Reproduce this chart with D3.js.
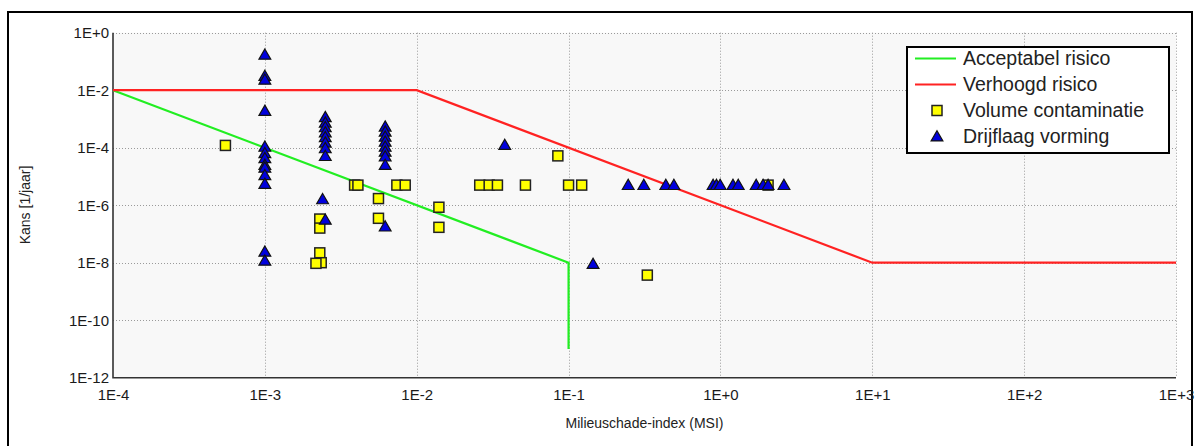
<!DOCTYPE html>
<html>
<head>
<meta charset="utf-8">
<script src="https://cdn.jsdelivr.net/npm/d3@7"></script>
<style>
  html, body { margin: 0; padding: 0; background: #fff; }
  svg { display: block; font-family: "Liberation Sans", Arial, sans-serif; }
</style>
</head>
<body>
<svg id="chart" width="1198" height="446"></svg>
<script>
// Grenslijnen (MSI, kans)
const acceptX = [1e-4, 1e-1, 1e-1];
const acceptY = [1e-2, 1e-8, 1e-11];
const verhoogdX = [1e-4, 1e-2, 1e1, 1e3];
const verhoogdY = [1e-2, 1e-2, 1e-8, 1e-8];

// Volume contaminatie (vierkantjes)
const volumeX = [5.5e-4, 2.3e-3, 2.3e-3, 2.3e-3, 2.35e-3, 2.17e-3, 3.9e-3, 4.1e-3, 5.6e-3, 5.6e-3,
  7.4e-3, 8.4e-3, 1.4e-2, 1.4e-2, 2.6e-2, 3.0e-2, 3.4e-2, 5.2e-2, 8.5e-2, 0.1, 0.122, 0.33, 2.06];
const volumeY = [1.2e-4, 3.3e-7, 1.6e-7, 2.2e-8, 1e-8, 9.5e-9, 5e-6, 5e-6, 1.7e-6, 3.5e-7,
  5e-6, 5e-6, 8.5e-7, 1.7e-7, 5e-6, 5e-6, 5e-6, 5e-6, 5.2e-5, 5e-6, 5e-6, 3.7e-9, 5e-6];

// Drijflaag vorming (driehoekjes)
const drijfX = [
  1e-3, 1e-3, 1e-3, 1e-3, 1e-3, 1e-3, 1e-3, 1e-3, 1e-3, 1e-3, 1e-3, 1e-3, 1e-3,
  2.5e-3, 2.5e-3, 2.5e-3, 2.5e-3, 2.5e-3, 2.5e-3, 2.5e-3, 2.5e-3, 2.4e-3, 2.5e-3,
  6.2e-3, 6.2e-3, 6.2e-3, 6.2e-3, 6.2e-3, 6.2e-3, 6.2e-3, 6.2e-3, 6.2e-3,
  3.8e-2, 0.145,
  0.247, 0.313, 0.437, 0.494, 0.895, 0.942, 0.996, 1.21, 1.31, 1.72, 1.91, 2.06, 2.62];
const drijfY = [
  0.17, 0.031, 0.023, 1.9e-3, 1.07e-4, 6.4e-5, 4.3e-5, 2.5e-5, 2e-5, 1.1e-5, 5.5e-6, 2.4e-8, 1.17e-8,
  1.15e-3, 7.4e-4, 5.1e-4, 3.4e-4, 2.3e-4, 1.5e-4, 9.5e-5, 5.1e-5, 1.6e-6, 3.1e-7,
  5.4e-4, 3.6e-4, 2.4e-4, 1.6e-4, 1.07e-4, 7.2e-5, 4.9e-5, 2.5e-5, 1.8e-7,
  1.24e-4, 9e-9,
  5e-6, 5e-6, 5e-6, 5e-6, 5e-6, 5e-6, 5e-6, 5e-6, 5e-6, 5e-6, 5e-6, 5e-6, 5e-6];

// As-labels
const xTicks = [1e-4, 1e-3, 1e-2, 1e-1, 1e0, 1e1, 1e2, 1e3];
const yTicks = [1e0, 1e-2, 1e-4, 1e-6, 1e-8, 1e-10, 1e-12];

const svg = d3.select("#chart");

// buitenkader
svg.append("rect")
  .attr("x", 8).attr("y", 12)
  .attr("width", 1184).attr("height", 460)
  .attr("fill", "#fff")
  .attr("stroke", "#000")
  .attr("stroke-width", 2);

const plotL = 113, plotR = 1176, plotT = 32.7, plotB = 377.7;

const x = d3.scaleLog().domain([1e-4, 1e3]).range([plotL, plotR]);
const y = d3.scaleLog().domain([1e-12, 1]).range([plotB, plotT]);

const fmt = v => {
  const e = Math.round(Math.log10(v));
  return "1E" + (e >= 0 ? "+" : "-") + Math.abs(e);
};

// plotvlak
svg.append("rect")
  .attr("x", plotL).attr("y", plotT)
  .attr("width", plotR - plotL).attr("height", plotB - plotT)
  .attr("fill", "#f8f8f8");

// rasterlijnen
const grid = svg.append("g")
  .attr("stroke", "#9a9a9a")
  .attr("stroke-width", 1)
  .attr("stroke-dasharray", "1,2");

grid.selectAll(".vgrid")
  .data(xTicks.slice(1))
  .enter().append("line")
  .attr("x1", d => Math.round(x(d)) + 0.5).attr("x2", d => Math.round(x(d)) + 0.5)
  .attr("y1", plotT).attr("y2", plotB);

grid.selectAll(".hgrid")
  .data(yTicks.slice(0, -1))
  .enter().append("line")
  .attr("y1", d => Math.round(y(d)) + 0.5).attr("y2", d => Math.round(y(d)) + 0.5)
  .attr("x1", plotL).attr("x2", plotR);

// assen
const xAxis = svg.append("g")
  .attr("transform", `translate(0,${plotB})`)
  .call(d3.axisBottom(x).tickValues(xTicks).tickFormat(fmt).tickSize(0).tickPadding(12));

const yAxis = svg.append("g")
  .attr("transform", `translate(${plotL},0)`)
  .call(d3.axisLeft(y).tickValues(yTicks).tickFormat(fmt).tickSize(0).tickPadding(4));

[xAxis, yAxis].forEach(a => {
  a.select(".domain").remove();
  a.selectAll("text")
    .attr("fill", "#1a1a1a")
    .style("font-size", "15px")
    .style("font-family", "'Liberation Sans', Arial, sans-serif");
});

svg.append("path")
  .attr("d", `M${plotL},${plotT}V${plotB}H${plotR}`)
  .attr("fill", "none")
  .attr("stroke", "#333")
  .attr("stroke-width", 1.6);

// astitels
svg.append("text")
  .attr("x", (plotL + plotR) / 2).attr("y", 428)
  .attr("text-anchor", "middle")
  .style("font-size", "14px")
  .attr("fill", "#222")
  .text("Milieuschade-index (MSI)");

svg.append("text")
  .attr("transform", "translate(30,205) rotate(-90)")
  .attr("text-anchor", "middle")
  .style("font-size", "14px")
  .attr("fill", "#222")
  .text("Kans [1/jaar]");

// lijnen
const line = d3.line().x(d => x(d[0])).y(d => y(d[1]));

svg.append("path")
  .datum(d3.zip(acceptX, acceptY))
  .attr("d", line)
  .attr("fill", "none")
  .attr("stroke", "#22ee22")
  .attr("stroke-width", 2.2);

svg.append("path")
  .datum(d3.zip(verhoogdX, verhoogdY))
  .attr("d", line)
  .attr("fill", "none")
  .attr("stroke", "#ff2222")
  .attr("stroke-width", 2.2);

// markers
const sq = 10;
const tri = d3.symbol().type(d3.symbolTriangle).size(60);

svg.append("g").selectAll("rect")
  .data(d3.zip(volumeX, volumeY))
  .enter().append("rect")
  .attr("x", d => x(d[0]) - sq / 2)
  .attr("y", d => y(d[1]) - sq / 2)
  .attr("width", sq).attr("height", sq)
  .attr("fill", "#ffff00")
  .attr("stroke", "#222")
  .attr("stroke-width", 1.5);

svg.append("g").selectAll("path")
  .data(d3.zip(drijfX, drijfY))
  .enter().append("path")
  .attr("d", tri)
  .attr("transform", d => `translate(${x(d[0])},${y(d[1]) + 1})`)
  .attr("fill", "#0000dd")
  .attr("stroke", "#111")
  .attr("stroke-width", 1.2);

// legenda
const legend = svg.append("g").attr("transform", "translate(907,47)");

legend.append("rect")
  .attr("width", 262).attr("height", 106)
  .attr("fill", "#fff")
  .attr("stroke", "#000")
  .attr("stroke-width", 2);

const items = ["Acceptabel risico", "Verhoogd risico", "Volume contaminatie", "Drijflaag vorming"];

items.forEach((label, i) => {
  const cy = 11.5 + i * 26;
  if (i === 0 || i === 1) {
    legend.append("line")
      .attr("x1", 8).attr("x2", 49)
      .attr("y1", cy).attr("y2", cy)
      .attr("stroke", i === 0 ? "#22ee22" : "#ff2222")
      .attr("stroke-width", 2.2);
  } else if (i === 2) {
    legend.append("rect")
      .attr("x", 30 - sq / 2).attr("y", cy - sq / 2)
      .attr("width", sq).attr("height", sq)
      .attr("fill", "#ffff00")
      .attr("stroke", "#222")
      .attr("stroke-width", 1.5);
  } else {
    legend.append("path")
      .attr("d", tri)
      .attr("transform", `translate(30,${cy + 1})`)
      .attr("fill", "#0000dd")
      .attr("stroke", "#111")
      .attr("stroke-width", 1.2);
  }
  legend.append("text")
    .attr("x", 56).attr("y", cy + 6.5)
    .style("font-size", "19.5px")
    .attr("fill", "#222")
    .text(label);
});
</script>
</body>
</html>
